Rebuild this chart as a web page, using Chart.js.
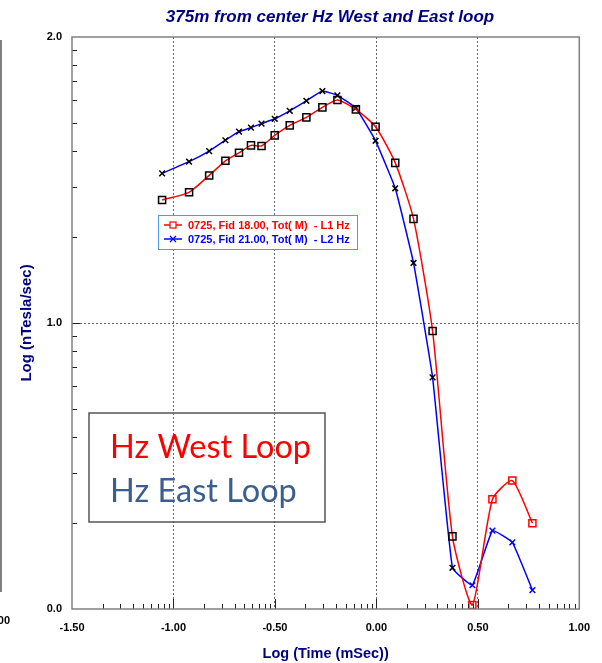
<!DOCTYPE html>
<html>
<head>
<meta charset="utf-8">
<script src="https://cdn.jsdelivr.net/npm/chart.js@4"></script>
<style>
html, body { margin: 0; padding: 0; background: #fff; }
#c { display: block; }
</style>
</head>
<body>
<canvas id="c" width="602" height="663"></canvas>
<script>
// log10 of time (mSec), shared by both loops
const logTime = [-1.056, -0.923, -0.824, -0.744, -0.677, -0.618, -0.566, -0.501, -0.427, -0.345, -0.266,
                 -0.192, -0.101, -0.004, 0.093, 0.183, 0.277, 0.375, 0.473, 0.572, 0.670, 0.769];
// log10 of nTesla/sec
const westHz = [1.430, 1.457, 1.516, 1.567, 1.595, 1.621, 1.619, 1.656, 1.691, 1.719, 1.754,
                1.780, 1.747, 1.686, 1.560, 1.364, 0.972, 0.254, 0.014, 0.384, 0.449, 0.300];
const eastHz = [1.523, 1.564, 1.601, 1.639, 1.669, 1.683, 1.697, 1.714, 1.742, 1.777, 1.811,
                1.796, 1.752, 1.637, 1.471, 1.210, 0.810, 0.144, 0.083, 0.274, 0.233, 0.066];
const xTicks = [-1.5, -1.0, -0.5, 0.0, 0.5, 1.0];
const yTicks = [0, 1, 2];
const legendLabels = ['0725, Fid 18.00, Tot( M)  - L1 Hz', '0725, Fid 21.00, Tot( M)  - L2 Hz'];
const noteLines = ['Hz West Loop', 'Hz East Loop'];
const chartTitle = '375m from center Hz West and East loop';

const RED = '#ff0000', BLUE = '#0000ff', NAVY = '#000080';
const nBlack = 18; // markers drawn black before the late-time points

function markerColors(col) {
    return logTime.map((t, i) => i < nBlack ? '#000' : col);
}

// frame, log-style minor ticks, legend, note box and title
const decor = {
    id: 'decor',
    afterDraw(chart) {
        const ctx = chart.ctx, a = chart.chartArea;
        const sx = chart.scales.x, sy = chart.scales.y;
        ctx.save();

        // strip of the neighbouring chart at the left edge
        ctx.strokeStyle = '#555';
        ctx.lineWidth = 1.5;
        ctx.beginPath();
        ctx.moveTo(1, 40); ctx.lineTo(1, 592);
        ctx.stroke();
        ctx.fillStyle = '#000';
        ctx.font = 'bold 11px Arial';
        ctx.textAlign = 'right';
        ctx.textBaseline = 'middle';
        ctx.fillText('00', 10, 621);

        // ticks
        ctx.strokeStyle = '#222';
        ctx.lineWidth = 1;
        ctx.beginPath();
        for (let i = 0; i < xTicks.length - 1; i++) {
            const step = xTicks[i + 1] - xTicks[i];
            if (i > 0) {
                const px = Math.round(sx.getPixelForValue(xTicks[i])) + 0.5;
                ctx.moveTo(px, a.bottom); ctx.lineTo(px, a.bottom - 10);
            }
            for (let k = 2; k <= 9; k++) {
                const px = Math.round(sx.getPixelForValue(xTicks[i] + step * Math.log10(k))) + 0.5;
                ctx.moveTo(px, a.bottom); ctx.lineTo(px, a.bottom - 5);
            }
        }
        for (let i = 0; i < yTicks.length - 1; i++) {
            const step = yTicks[i + 1] - yTicks[i];
            if (i > 0) {
                const py = Math.round(sy.getPixelForValue(yTicks[i])) + 0.5;
                ctx.moveTo(a.left, py); ctx.lineTo(a.left + 8, py);
            }
            for (let k = 2; k <= 9; k++) {
                const py = Math.round(sy.getPixelForValue(yTicks[i] + step * Math.log10(k))) + 0.5;
                ctx.moveTo(a.left, py); ctx.lineTo(a.left + 5, py);
            }
        }
        ctx.stroke();

        // plot frame
        ctx.strokeStyle = '#808080';
        ctx.lineWidth = 1.5;
        ctx.strokeRect(a.left, a.top, a.right - a.left, a.bottom - a.top);

        // legend
        const lx = 158, ly = 215, lw = 199, lh = 34;
        ctx.fillStyle = '#fff';
        ctx.fillRect(lx, ly, lw, lh);
        ctx.strokeStyle = '#4a9af0';
        ctx.lineWidth = 1;
        ctx.strokeRect(lx + 0.5, ly + 0.5, lw, lh);
        const rows = [
            {y: ly + 10, col: RED, text: legendLabels[0], mark: 'sq'},
            {y: ly + 24, col: BLUE, text: legendLabels[1], mark: 'x'}
        ];
        ctx.font = 'bold 11px Arial';
        ctx.textAlign = 'left';
        ctx.textBaseline = 'middle';
        rows.forEach(r => {
            ctx.strokeStyle = r.col;
            ctx.lineWidth = 1.5;
            ctx.beginPath();
            ctx.moveTo(lx + 6, r.y); ctx.lineTo(lx + 24, r.y);
            ctx.stroke();
            ctx.lineWidth = 1.2;
            if (r.mark === 'sq') {
                ctx.fillStyle = '#fff';
                ctx.fillRect(lx + 12, r.y - 3, 6, 6);
                ctx.strokeRect(lx + 12, r.y - 3, 6, 6);
            } else {
                ctx.beginPath();
                ctx.moveTo(lx + 12, r.y - 3); ctx.lineTo(lx + 18, r.y + 3);
                ctx.moveTo(lx + 18, r.y - 3); ctx.lineTo(lx + 12, r.y + 3);
                ctx.stroke();
            }
            ctx.fillStyle = r.col;
            ctx.fillText(r.text, lx + 30, r.y + 0.5);
        });

        // note box
        ctx.strokeStyle = '#555';
        ctx.lineWidth = 1.5;
        ctx.strokeRect(89, 413, 236, 109);
        ctx.font = '32.5px Lato, "Open Sans", sans-serif';
        ctx.textBaseline = 'alphabetic';
        ctx.fillStyle = RED;
        ctx.fillText(noteLines[0], 110, 458);
        ctx.fillStyle = '#3b5e8f';
        ctx.fillText(noteLines[1], 110, 502);

        // title
        ctx.font = 'italic bold 17px Arial';
        ctx.textAlign = 'center';
        ctx.textBaseline = 'middle';
        ctx.fillStyle = NAVY;
        ctx.fillText(chartTitle, 330, 17);

        ctx.restore();
    }
};

const edgeless = (c) => (c.tick && (c.tick.value === c.scale.min || c.tick.value === c.scale.max)) ? 'rgba(0,0,0,0)' : '#666';

new Chart(document.getElementById('c'), {
    type: 'line',
    data: {
        datasets: [{
            label: legendLabels[0],
            data: logTime.map((t, i) => ({x: t, y: westHz[i]})),
            borderColor: RED,
            borderWidth: 1.5,
            tension: 0.2,
            pointStyle: 'rect',
            pointRadius: 5,
            pointBorderWidth: 1.5,
            pointBorderColor: markerColors(RED),
            pointBackgroundColor: 'rgba(0,0,0,0)'
        }, {
            label: legendLabels[1],
            data: logTime.map((t, i) => ({x: t, y: eastHz[i]})),
            borderColor: BLUE,
            borderWidth: 1.5,
            tension: 0.1,
            pointStyle: 'crossRot',
            pointRadius: 4,
            pointBorderWidth: 1.5,
            pointBorderColor: markerColors(BLUE),
            pointBackgroundColor: 'rgba(0,0,0,0)'
        }]
    },
    options: {
        responsive: false,
        animation: false,
        layout: { padding: { left: 0, top: 37, right: 22, bottom: 0 } },
        plugins: {
            legend: { display: false },
            tooltip: { enabled: false },
            title: { display: false }
        },
        scales: {
            x: {
                type: 'linear',
                min: -1.5,
                max: 1.0,
                afterBuildTicks: s => { s.ticks = xTicks.map(v => ({value: v})); },
                afterFit: s => { s.height = 54; },
                ticks: {
                    color: '#000',
                    font: { family: 'Arial', size: 11, weight: 'bold' },
                    padding: 12,
                    maxRotation: 0,
                    callback: v => v.toFixed(2)
                },
                grid: { color: edgeless, lineWidth: 1, drawTicks: false },
                border: { display: false, dash: [2, 2] },
                title: {
                    display: true,
                    text: 'Log (Time (mSec))',
                    color: NAVY,
                    font: { family: 'Arial', size: 14.5, weight: 'bold' },
                    padding: { top: 4, bottom: 0 }
                }
            },
            y: {
                type: 'linear',
                min: 0,
                max: 2,
                afterBuildTicks: s => { s.ticks = yTicks.map(v => ({value: v})); },
                afterFit: s => { s.width = 72; },
                ticks: {
                    color: '#000',
                    font: { family: 'Arial', size: 11, weight: 'bold' },
                    padding: 10,
                    callback: v => v.toFixed(1)
                },
                grid: { color: edgeless, lineWidth: 1, drawTicks: false },
                border: { display: false, dash: [2, 2] },
                title: {
                    display: true,
                    text: 'Log (nTesla/sec)',
                    color: NAVY,
                    font: { family: 'Arial', size: 15, weight: 'bold' },
                    padding: { top: 18, bottom: 0 }
                }
            }
        }
    },
    plugins: [decor]
});
</script>
</body>
</html>
